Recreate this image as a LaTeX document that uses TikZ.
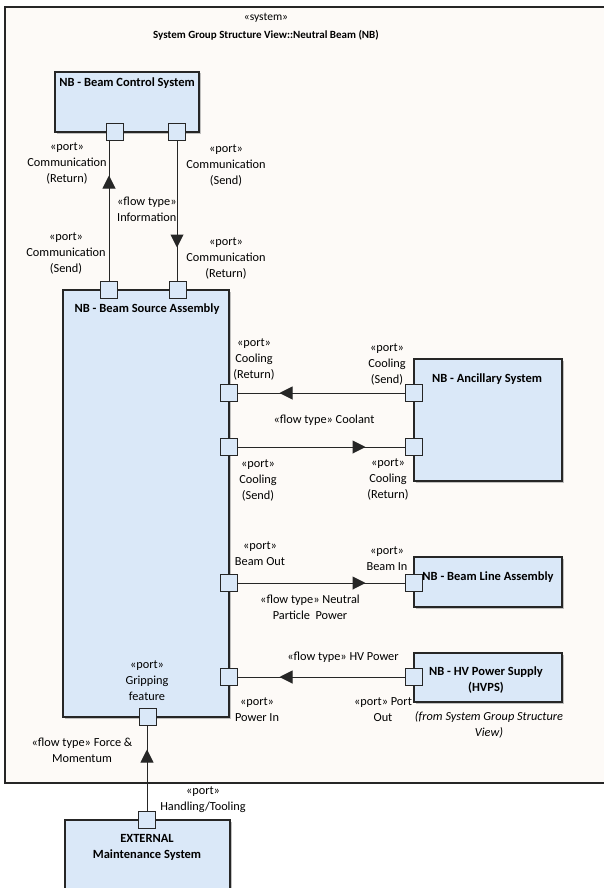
\documentclass[tikz,border=0pt]{standalone}
\usepackage{fontspec}
\setmainfont{Carlito}
\usetikzlibrary{positioning, arrows.meta, decorations.markings, shadows}

\definecolor{partblue}{HTML}{DAE8F8}
\definecolor{framebg}{HTML}{FDFAF7}

\tikzset{
  block/.style={draw=black!85, line width=1.2pt, fill=partblue,
    drop shadow={shadow xshift=1.5pt, shadow yshift=-1.5pt, fill=black!30, opacity=0.8}},
  port/.style={draw=black!85, line width=1pt, fill=partblue, minimum size=17pt, inner sep=0pt},
  lbl/.style={align=center, inner sep=0pt, font=\fontsize{12.3}{16}\selectfont},
  btitle/.style={lbl, font=\fontsize{12.5}{16}\selectfont\bfseries},
  flow/.style={draw=black!85, line width=1pt, postaction={decorate,
    decoration={markings, mark=at position #1 with {\arrow{Triangle[length=13pt,width=13pt]}}}}},
}

\begin{document}
\begin{tikzpicture}[x=1pt, y=-1pt]
\clip (0,0) rectangle (604,888);
\fill[white] (0,0) rectangle (604,888);

% system frame
\draw[fill=framebg, draw=black!85, line width=1.2pt] (5,7) rectangle (640,783);
\node[lbl, font=\fontsize{11.5}{16}\selectfont] (sysst) at (266,18) {«system»};
\node[btitle, font=\fontsize{11}{16}\selectfont\bfseries] (systitle) at (266,35)
    {System Group Structure View::Neutral Beam (NB)};

% parts
\node[block, minimum width=144pt, minimum height=60pt] (bcs) at (127,102) {};
\node[block, minimum width=166pt, minimum height=427pt] (bsa) at (146,503.5) {};
\node[block, minimum width=148pt, minimum height=122pt] (anc) at (488,420) {};
\node[block, minimum width=148pt, minimum height=50pt] (bla) at (488,582) {};
\node[block, minimum width=148pt, minimum height=49pt] (hvps) at (488,677.5) {};
\node[block, minimum width=165pt, minimum height=80pt] (ext) at (147.5,860) {};

\node[btitle] (bcsname) at (127,83) {NB - Beam Control System};
\node[btitle] (bsaname) at (147,309) {NB - Beam Source Assembly};
\node[btitle] (ancname) at (487,379) {NB - Ancillary System};
\node[btitle] (blaname) at (488,577) {NB - Beam Line Assembly};
\node[btitle] (hvpsname) at (486,680) {NB - HV Power Supply\\(HVPS)};
\node[btitle] (extname) at (147,847) {EXTERNAL\\Maintenance System};
\node[lbl, font=\fontsize{12.3}{16}\selectfont\itshape] (hvpsfrom) at (489,725)
    {(from System Group Structure\\View)};

% ports
\node[port] (bcsRet) at (115,132) {};
\node[port] (bcsSend) at (177,132) {};
\node[port] (bsaSend) at (109,290) {};
\node[port] (bsaRet) at (178,290) {};
\node[port] (bsaCoolRet) at (229,393) {};
\node[port] (bsaCoolSend) at (229,447) {};
\node[port] (bsaBeamOut) at (229,583) {};
\node[port] (bsaPowerIn) at (229,677) {};
\node[port] (bsaGrip) at (148,717) {};
\node[port] (ancCoolSend) at (414,393) {};
\node[port] (ancCoolRet) at (414,447) {};
\node[port] (blaBeamIn) at (414,583) {};
\node[port] (hvpsOut) at (414,677) {};
\node[port] (extTool) at (147,820) {};

% flows
\draw[flow=105.5pt] (bsaSend) -- (bsaSend |- bcsRet.south);
\draw[flow=106.5pt] (bcsSend) -- (bcsSend |- bsaRet.north);
\draw[flow=125.5pt] (ancCoolSend) -- (bsaCoolRet);
\draw[flow=127.5pt] (bsaCoolSend) -- (ancCoolRet);
\draw[flow=127.5pt] (bsaBeamOut) -- (blaBeamIn);
\draw[flow=125.5pt] (hvpsOut) -- (bsaPowerIn);
\draw[flow=61.5pt] (extTool) -- (extTool |- bsaGrip.south);

% port and flow labels
\node[lbl] (lbcsRet) at (67,163) {«port»\\Communication\\(Return)};
\node[lbl] (lbcsSend) at (226,165) {«port»\\Communication\\(Send)};
\node[lbl, anchor=west, align=left] (linfo) at (117,209) {«flow type»\\Information};
\node[lbl] (lbsaSend) at (66,253) {«port»\\Communication\\(Send)};
\node[lbl] (lbsaRet) at (226,258) {«port»\\Communication\\(Return)};
\node[lbl] (lbsaCoolRet) at (254,359) {«port»\\Cooling\\(Return)};
\node[lbl] (lancCoolSend) at (387,364) {«port»\\Cooling\\(Send)};
\node[lbl] (lcoolant) at (324,420) {«flow type» Coolant};
\node[lbl] (lbsaCoolSend) at (258,480) {«port»\\Cooling\\(Send)};
\node[lbl] (lancCoolRet) at (388,479) {«port»\\Cooling\\(Return)};
\node[lbl] (lbeamOut) at (260,554) {«port»\\Beam Out};
\node[lbl] (lbeamIn) at (387,559) {«port»\\Beam In};
\node[lbl] (lneutral) at (310,607) {«flow type» Neutral\\Particle\ \ Power};
\node[lbl] (lhv) at (343,657) {«flow type» HV Power};
\node[lbl] (lpowerIn) at (257,710) {«port»\\Power In};
\node[lbl] (lportOut) at (383,710) {«port» Port\\Out};
\node[lbl] (lgrip) at (147,681) {«port»\\Gripping\\feature};
\node[lbl] (lforce) at (82,750) {«flow type» Force \&\\Momentum};
\node[lbl] (ltool) at (203,800) {«port»\\Handling/Tooling};
\end{tikzpicture}
\end{document}
